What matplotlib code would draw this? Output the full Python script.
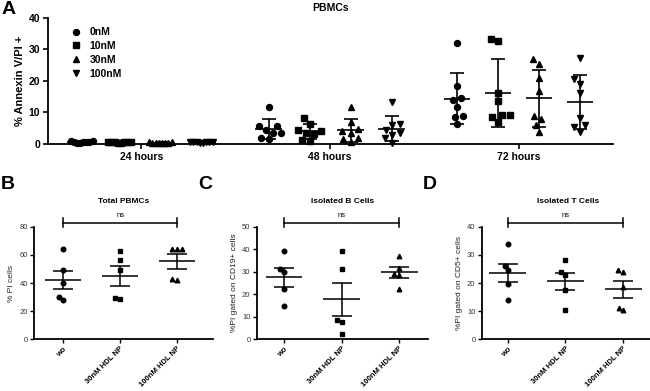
import numpy as np
import matplotlib
matplotlib.use("Agg")
import matplotlib.pyplot as plt
from matplotlib.lines import Line2D

plt.rcParams['font.family'] = ['Liberation Sans', 'DejaVu Sans']

# ---------------- Data ----------------
# Panel A: % Annexin V/PI+ in PBMCs, 8 donors, per time point and dose
timepoints = ["24 hours", "48 hours", "72 hours"]
doses = ["0nM", "10nM", "30nM", "100nM"]
a_24h = [
    [0.3, 0.5, 0.6, 0.9, 0.4, 0.7, 0.5, 0.8],
    [0.4, 0.5, 0.6, 0.5, 0.7, 0.6, 0.4, 0.5],
    [0.2, 0.3, 0.5, 0.4, 0.6, 0.3, 0.2, 0.4],
    [0.4, 0.5, 0.5, 0.6, 0.5, 0.4, 0.6, 0.5],
]
a_48h = [
    [11.7, 5.8, 5.8, 4.5, 3.5, 3.5, 1.5, 1.8],
    [8.3, 6.4, 4.5, 4.0, 3.5, 3.2, 1.0, 1.2],
    [11.8, 7.0, 4.7, 4.0, 3.5, 1.8, 1.5, 0.7],
    [13.2, 6.4, 6.0, 4.5, 3.5, 3.0, 1.8, 0.3],
]
a_72h = [
    [32.1, 18.4, 14.5, 14.0, 11.8, 9.0, 8.7, 6.3],
    [32.5, 33.2, 16.2, 13.6, 9.2, 9.2, 8.4, 6.9],
    [25.2, 26.8, 20.8, 16.9, 8.9, 7.8, 6.0, 3.7],
    [27.1, 20.5, 19.0, 16.0, 8.1, 6.0, 5.5, 3.9],
]

# Panels B-D: % PI cells, 5 donors each
bcd_categories = ["wo", "30nM HDL NP", "100nM HDL NP"]
b_total_pbmc = [
    [64, 49, 40, 30, 28],
    [62.5, 56.5, 49, 28.5, 29],
    [64, 64, 64.5, 42, 43],
]
c_b_cells = [
    [39, 31, 30, 22.5, 15],
    [39, 31, 8.5, 7.7, 2.2],
    [37, 29, 28.5, 31.5, 22.5],
]
d_t_cells = [
    [33.8, 26, 24.5, 19.8, 14],
    [28, 24, 23, 17.5, 10.3],
    [24, 24.5, 18.7, 10.5, 11.2],
]

markers = ['o', 's', '^', 'v']


def swarm_offsets(ax, xc, vals, d_px):
    """Beeswarm offsets (in data x units) so markers of diameter d_px don't overlap."""
    vals = np.asarray(vals, float)
    pts = ax.transData.transform(np.column_stack([np.full(len(vals), xc), vals]))
    ys = pts[:, 1]
    x0 = ax.transData.transform((xc, 0))[0]
    x1 = ax.transData.transform((xc + 1, 0))[0]
    ppu = x1 - x0
    order = np.argsort(ys)
    placed = []
    offs = np.zeros(len(vals))
    for i in order:
        y = ys[i]
        cands = [0.0]
        for (px, py) in placed:
            dy = abs(py - y)
            if dy < d_px:
                dx = np.sqrt(d_px ** 2 - dy ** 2)
                cands += [px + dx, px - dx]
        cands = sorted(cands, key=lambda c: (abs(c), c))
        for c in cands:
            ok = all((c - px) ** 2 + (y - py) ** 2 >= d_px ** 2 - 1e-6 for px, py in placed)
            if ok:
                break
        placed.append((c, y))
        offs[i] = c
    return offs / ppu


W, H = 650, 391
fig = plt.figure(figsize=(W / 100, H / 100), dpi=100)


def fax(l, r, b, t):
    return fig.add_axes([l / W, 1 - b / H, (r - l) / W, (b - t) / H])


# ---------------- Panel A ----------------
axA = fax(48, 613, 144, 17.7)
gsp = 4.6
axA.set_xlim(-2.28, 2 * gsp + 1.5 + 0.8)
axA.set_ylim(0, 40)
for s in ['top', 'right']:
    axA.spines[s].set_visible(False)
for s in ['left', 'bottom']:
    axA.spines[s].set_linewidth(1.3)
axA.set_yticks([0, 10, 20, 30, 40])
axA.set_xticks([g * gsp for g in range(3)])
axA.set_xticklabels(timepoints, fontsize=7.5, fontweight='bold')
axA.tick_params(axis='both', width=1.2, length=3.5, labelsize=7.5, pad=2)
for lab in axA.get_yticklabels():
    lab.set_fontweight('bold')
axA.set_ylabel("% Annexin V/PI +", fontsize=8, fontweight='bold', labelpad=3)
axA.set_title("PBMCs", fontsize=7.5, fontweight='bold', pad=5)

groups = [a_24h, a_48h, a_72h]
for g, grp in enumerate(groups):
    for k, vals in enumerate(grp):
        xc = g * gsp + (k - 1.5)
        v = np.array(vals)
        dpx = 3.2 if g == 0 else 8.0
        offs = swarm_offsets(axA, xc, v, dpx)
        axA.plot(xc + offs, v, linestyle='none', marker=markers[k], ms=4.3,
                 color='black', mec='black', clip_on=False, zorder=3)
        m = v.mean()
        sd = v.std(ddof=1)
        axA.errorbar(xc, m, yerr=sd, color='black', lw=1.2, capsize=5,
                     capthick=1.2, zorder=2)
        axA.hlines(m, xc - 0.32, xc + 0.32, color='black', lw=1.2, zorder=2)

handles = [Line2D([], [], linestyle='none', marker=mk, ms=4.3, color='black')
           for mk in markers]
leg = axA.legend(handles, doses, loc='upper left', bbox_to_anchor=(0.04, 0.925),
                 frameon=False, handlelength=1.0, handletextpad=0.8,
                 labelspacing=0.38, borderaxespad=0, borderpad=0,
                 prop={'size': 7.5, 'weight': 'bold'})

fig.text(2 / W, 1 - 1 / H, "A", fontsize=14, fontweight='bold', va='top', ha='left')


# ---------------- Panels B-D ----------------
def small_panel(l, r, xl, xr, ymax, yticks, data, title, ylabel, letter, letter_x):
    ax = fax(l, r, 339.3, 226.7)
    ax.set_xlim(xl, xr)
    ax.set_ylim(0, ymax)
    for s in ['top', 'right']:
        ax.spines[s].set_visible(False)
    for s in ['left', 'bottom']:
        ax.spines[s].set_linewidth(1.3)
    ax.set_yticks(yticks)
    ax.set_xticks(range(len(bcd_categories)))
    ax.set_xticklabels(bcd_categories, rotation=45, ha='right', rotation_mode='anchor',
                       fontsize=5.5, fontweight='bold')
    ax.tick_params(axis='both', width=1.0, length=3, pad=1.5)
    ax.tick_params(axis='y', labelsize=5.5, labelcolor='#333333')
    ax.set_ylabel(ylabel, fontsize=6, labelpad=3, color='#222222')
    ax.set_title(title, fontsize=6, fontweight='bold', pad=17)
    for k, vals in enumerate(data):
        v = np.array(vals, float)
        offs = swarm_offsets(ax, k, v, 5.0)
        ax.plot(k + offs, v, linestyle='none', marker=markers[k], ms=3.3,
                color='black', clip_on=False, zorder=3)
        m = v.mean()
        sem = v.std(ddof=1) / np.sqrt(len(v))
        ax.errorbar(k, m, yerr=sem, color='black', lw=1.1, capsize=7, capthick=1.1, zorder=2)
        ax.hlines(m, k - 0.32, k + 0.32, color='black', lw=1.1, zorder=2)
    # significance bar
    tr = ax.get_xaxis_transform()
    yb = 1.035
    ax.plot([0, 2], [yb, yb], color='black', lw=1.1, transform=tr, clip_on=False)
    for xe in (0, 2):
        ax.plot([xe, xe], [yb - 0.04, yb + 0.04], color='black', lw=1.1,
                transform=tr, clip_on=False)
    ax.text(1, yb + 0.035, "ns", transform=tr, ha='center', va='bottom', fontsize=5.5)
    fig.text(letter_x / W, 1 - 176 / H, letter, fontsize=14, fontweight='bold',
             va='top', ha='left')
    return ax


small_panel(34, 213, -0.51, 2.63, 80, [0, 20, 40, 60, 80], b_total_pbmc,
            "Total PBMCs", "% PI cells", "B", 1)
small_panel(256.7, 428, -0.475, 2.5, 50, [0, 10, 20, 30, 40, 50], c_b_cells,
            "Isolated B Cells", "%PI gated on CD19+ cells", "C", 198)
small_panel(481.7, 655, -0.45, 2.55, 40, [0, 10, 20, 30, 40], d_t_cells,
            "Isolated T Cells", "%PI gated on CD5+ cells", "D", 423)

fig.savefig("out.png", dpi=100)
